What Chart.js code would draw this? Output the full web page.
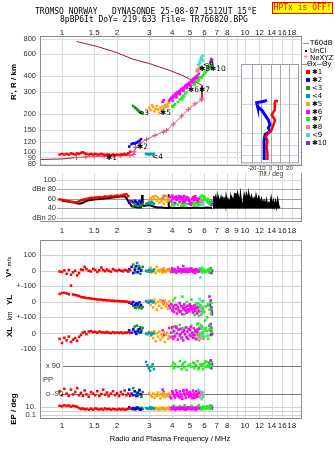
<!DOCTYPE html>
<html><head><meta charset="utf-8">
<script src="https://cdn.jsdelivr.net/npm/chart.js@4.4.1/dist/chart.umd.min.js"></script>
<style>
html,body{margin:0;padding:0;background:#fff;}
body{width:335px;height:451px;overflow:hidden;position:relative;font-family:'Liberation Sans',Arial,sans-serif;color:#000;}
canvas{position:absolute;}
.t{position:absolute;white-space:pre;line-height:10px;}
.mono{font-family:'DejaVu Sans Mono',monospace;font-size:8px;}
.rot{position:absolute;white-space:nowrap;transform:translate(-50%,-50%) rotate(-90deg);line-height:10px;}
.lg{position:absolute;font-size:7px;line-height:8px;white-space:nowrap;font-family:'DejaVu Sans',sans-serif;}
.sw{position:absolute;width:4px;height:4px;}
</style></head><body>
<canvas id="cTop" width="335" height="171" style="left:0;top:0"></canvas>
<canvas id="cDb" width="335" height="67" style="left:0;top:169px"></canvas>
<canvas id="cLow" width="335" height="215" style="left:0;top:236px"></canvas>
<canvas id="cTilt" width="70" height="120" style="left:236px;top:60px"></canvas>

<div class="t mono" style="left:35px;top:7px">TROMSO NORWAY   DYNASONDE 25-08-07 1512UT 15°E</div>
<div class="t mono" style="left:60px;top:15px">8pBP6It DoY= 219.633 File= TR766820.BPG</div>
<div class="mono" style="position:absolute;left:272px;top:2px;width:59px;height:10px;border:1px solid #f00;background:#ff0;color:#f00;line-height:10px;text-align:center">HPTx is OFF!</div>

<div class="rot" style="left:14px;top:82px;font-weight:bold;font-size:8px">R', R / km</div>
<div class="rot" style="left:8.5px;top:267px;font-size:8px"><b>V*</b> <span style="font-size:6px">m/s</span></div>
<div class="rot" style="left:10px;top:300px;font-weight:bold;font-size:8px">YL</div>
<div class="rot" style="left:10px;top:316px;font-size:6.5px">km</div>
<div class="rot" style="left:10px;top:332px;font-weight:bold;font-size:8px">XL</div>
<div class="rot" style="left:14px;top:409px;font-weight:bold;font-size:8px">EP / deg</div>
<div class="t" style="left:170px;top:434px;transform:translateX(-50%);font-size:7.5px">Radio and Plasma Frequency / MHz</div>

<div id="legend"></div>

<script>
// ---------------- DATA ----------------
const gridFreqs    = [1,1.5,2,3,4,5,6,7,8,9,10,12,14,16,18];
const topTickFreqs = [1,1.5,2,3,4,5,6,7,8,10,12,14,16,18];
const midTickFreqs = [1,1.5,2,3,4,5,6,7,8,9,10,12,14,16,18];
const botTickFreqs = [1,1.5,2,3,4,5,6,7,8,10,12,14,16,18];
const heightTicks  = [80,90,100,120,150,200,300,400,600,800];
const dbTicks      = [100,80,60,40,20];
const dbTickLabels = ['100','dBe 80','60','40','dBn 20'];
const tiltTicks    = [-20,-10,0,10,20];
const tiltHeightGrid = [100,120,150,250,400];

// profile lines (frequency MHz, height km)
const topsideF = [1.2,1.55,2.0,2.45,3.0,3.9,4.5,5.1,5.6,5.8,5.82];
const topsideH = [760,695,618,548,507,445,410,375,350,340,268];
const profileF = [5.82,5.8,5.33,4.9,4.51,4.06,3.73,3.58,3.22,2.9,2.67,2.52,2.48,2.45,2.35,2.1,1.9,1.7,1.5,1.35,1.2];
const profileH = [268,260,241,218,193,166,148,144,135,125,117,108,100,95,93.5,93,92.5,92,91.5,91,90];
const bottomsideF = [0.758,1.0,1.2];
const bottomsideH = [86.7,87.5,90];

// echo clusters: frequency, height, amplitude dB, V*, YL, XL, PP, EP
const f1  = [0.97,1.0,1.03,1.06,1.09,1.12,1.15,1.18,1.21,1.24,1.27,1.3,1.33,1.36,1.4,1.44,1.48,1.52,1.56,1.6,1.64,1.68,1.72,1.76,1.8,1.85,1.9,1.95,2.0,2.05,2.1,2.15,2.2,2.25,2.3,2.36];
const h1  = [95,96,95,96,95,97,96,95,97,96,98,99,97,96,95,96,95,96,95,95,96,95,94,95,95,94,95,94,95,94,95,95,96,95,97,100];
const db1 = [59,58,57,56,55,54,53,52,53,55,57,58,59,60,61,62,62,63,63,64,63,64,65,64,65,66,65,66,67,66,67,68,69,70,66,55];
const vs1 = [-5,-8,2,-20,5,-25,-10,0,-30,-15,8,5,25,10,0,-5,12,5,-8,3,20,5,-3,8,0,-6,10,3,-2,6,0,-4,5,2,-6,4];
const yl1 = [52,58,60,55,50,106,48,45,42,38,32,30,28,25,24,22,20,18,16,15,14,12,12,10,10,8,8,6,6,5,4,4,2,2,0,-2];
const xl1 = [-35,-62,-28,-45,-20,-55,-40,-30,-48,-22,-10,5,10,-5,12,15,8,10,5,12,8,6,4,10,5,2,8,4,6,3,7,2,5,4,8,3];
const pp1 = [-70,-95,-55,-85,-100,-60,-90,-75,-50,-95,-80,-100,-65,-90,-105,-75,-85,-95,-70,-100,-88,-60,-92,-78,-100,-85,-70,-95,-82,-100,-75,-90,-65,-95,-85,-100];
const ep1 = [20,15,25,18,22,12,20,15,10,5,3,4,2.5,3,2,3.5,2,4,3,2.2,3,2,4,2.5,3,2,3,2.5,2,3,2.2,3,2,2.5,3,5];

const f2  = [2.33,2.4,2.45,2.5,2.55,2.6,2.65,2.7];
const h2  = [110,115,117,116,118,120,122,126];
const db2 = [52,55,53,56,54,50,55,52];
const vs2 = [10,25,-15,5,30,-10,15,0];
const yl2 = [-5,-12,0,-18,-8,-15,-3,-20];
const xl2 = [20,5,25,10,-3,15,28,8];
const pp2 = [-60,-85,-95,-70,-100,-80,-65,-90];
const ep2 = [8,3,5,2.5,4,6,3,2];

const f3  = [2.45,2.5,2.53,2.57,2.6,2.64,2.68,2.72,2.76];
const h3  = [232,226,222,218,214,210,207,205,203];
const db3 = [44,48,52,47,50,45,49,46,50];
const vs3 = [40,20,-10,50,10,30,-20,5,25];
const yl3 = [-25,-35,-40,-22,-30,-38,-28,-42,-33];
const xl3 = [30,45,10,50,25,5,40,20,35];
const pp3 = [-50,-70,-95,-80,-100,-60,-88,-105,-75];
const ep3 = [3,5,2.5,8,4,3,2,6,3];

const f4  = [2.88,2.93,2.98,3.03,3.08,3.13,3.18];
const h4  = [96,96,95,96,96,95,96];
const db4 = [49,51,52,50,53,51,50];
const vs4 = [0,-5,5,-8,2,-3,6];
const yl4 = [5,0,-5,2,8,-3,0];
const xl4 = [0,-5,5,2,-8,3,0];
const pp4 = [115,95,75,60,85,100,70];
const ep4 = [5,3,4,8,3,5,4];

const f5  = [3.0,3.05,3.1,3.15,3.2,3.25,3.3,3.35,3.4,3.45,3.5,3.55,3.6,3.65,3.7,3.75,3.8,3.85];
const h5  = [225,215,235,228,210,220,232,218,205,225,215,230,220,235,228,240,230,245];
const db5 = [58,62,55,65,60,66,57,63,52,60,55,64,50,58,66,54,61,57];
const vs5 = [5,20,-10,0,10,-15,25,3,-5,8,0,-12,15,2,-8,5,10,0];
const yl5 = [10,-20,5,-35,15,-10,-50,0,-25,12,-40,-5,-18,8,-30,-12,-45,2];
const xl5 = [10,-15,5,-30,15,-50,0,-20,12,-40,-5,-25,8,-55,-10,3,-35,-18];
const pp5 = [-80,-95,-105,-85,-110,-90,-100,-78,-95,-115,-88,-100,-82,-108,-95,-90,-102,-85];
const ep5 = [5,3,8,4,2.5,6,3,4,2,5,3,7,4,3,2.5,5,4,3];

const f6  = [3.55,3.6,3.85,3.9,3.95,4.0,4.05,4.1,4.15,4.2,4.25,4.3,4.35,4.4,4.45,4.5,4.55,4.6,4.65,4.7,4.75,4.8,4.85,4.9,4.95,5.0,5.05,5.1,5.15,5.2,5.25,5.3,5.35,5.4,5.45,5.5,4.02,4.22,4.42,4.62,4.82,5.02,5.22,5.6];
const h6  = [250,258,255,262,270,268,280,275,290,285,298,292,305,300,312,318,310,325,320,332,340,335,348,342,355,350,362,370,365,378,385,380,392,398,390,405,255,272,288,308,322,338,358,420];
const db6 = [62,66,58,64,55,67,60,63,52,65,58,62,66,54,60,64,57,62,66,55,60,64,58,62,56,50,48,51,60,64,57,62,66,58,61,55,63,59,65,53,61,57,63,60];
const vs6 = [5,-3,10,0,-8,15,3,-5,8,-12,0,20,5,-3,10,-8,2,30,-5,6,0,-10,12,3,-6,8,-2,15,0,-8,5,2,-15,10,0,-4,6,-10,3,8,-5,12,0,-3];
const yl6 = [5,-10,-25,-40,-15,-55,-30,-65,-20,-45,-75,-35,-50,-10,-60,-28,-80,-42,-18,-55,-35,-70,-25,-48,-62,-15,-38,-52,-30,-68,-45,-22,-58,-40,-75,-33,-50,-20,-65,-38,-55,-28,-45,-60];
const xl6 = [20,-10,35,-25,5,40,-35,15,-20,45,0,-40,25,-15,30,-30,10,-45,20,-5,38,-22,12,-35,28,-8,42,-18,5,-28,33,-12,18,-38,8,25,-20,35,-5,15,-30,22,-10,30];
const pp6 = [-60,-75,-90,-105,-115,-70,-85,-100,-110,-65,-80,-95,-108,-72,-88,-102,-118,-68,-82,-96,-112,-62,-78,-92,-106,-74,-86,-98,-114,-66,-84,-100,-110,-70,-90,-104,-76,-94,-108,-64,-88,-98,-112,-80];
const ep6 = [4,3,6,2.5,5,3,8,4,2,6,3,5,4,2.5,7,3,5,4,3,6,2,4,5,3,8,4,3,5,2.5,6,4,3,5,2,4,6,3,5,4,3,7,4,3,5];

const f7  = [4.0,4.05,4.1,4.15,4.3,4.4,4.5,4.55,4.6,4.65,4.7,4.8,4.9,5.0,5.1,5.2,5.3,5.4,5.5,5.6,5.7,5.8,5.9,6.0,6.1,6.2,6.3,6.4,6.5,6.55,5.6,5.85,6.05,6.25,6.45,5.3,5.55];
const h7  = [232,228,236,240,250,262,270,262,280,275,290,298,345,350,342,360,355,372,365,385,395,390,410,420,430,445,460,478,490,505,370,400,440,470,500,340,380];
const db7 = [48,52,46,50,48,53,46,50,54,47,52,49,50,55,48,52,46,50,55,60,64,67,66,62,58,55,52,50,56,54,53,58,64,60,57,50,48];
const vs7 = [5,-8,12,0,-5,10,-12,3,8,-3,15,0,-6,10,-2,5,-10,8,0,-5,12,3,-8,6,0,-4,10,-6,3,8,-2,5,-10,0,7,-5,3];
const yl7 = [-20,10,-40,25,-60,-5,-30,35,-50,-15,-80,0,-25,-45,15,-70,-35,-10,-55,-90,-20,-40,5,-65,-30,-100,-15,-50,-75,-5,-35,-60,-120,-25,-45,-85,-10];
const xl7 = [30,10,45,-10,20,55,0,-25,35,15,-5,40,25,-15,50,5,-30,20,60,-10,30,45,0,-20,35,15,-35,25,50,10,-5,40,20,-15,30,5,65];
const pp7 = [90,110,75,100,85,120,70,95,105,80,115,65,90,100,85,110,75,95,120,80,100,90,70,105,85,115,95,80,110,90,75,100,120,85,95,105,70];
const ep7 = [10,5,20,3,8,15,4,6,12,3,25,5,8,4,18,6,3,10,5,30,8,4,12,6,3,15,5,8,4,20,6,3,10,5,8,4,12];

const f8  = [5.45,5.5,5.55,5.6,5.7,5.8,5.9];
const h8  = [440,455,445,465,475,470,460];
const db8 = [55,57,52,56,58,54,56];
const vs8 = [0,5,-5,3,-2,6,0];
const yl8 = [-30,-50,-70,-40,-60,-80,-45];
const xl8 = [-10,-30,10,-45,-20,5,-35];
const pp8 = [-85,-95,-75,-100,-90,-80,-105];
const ep8 = [5,3,8,4,6,3,5];

const f9  = [5.55,5.6,5.65,5.7,5.7,5.75,5.8,5.85,5.88,5.9];
const h9  = [495,500,520,510,540,560,575,545,585,530];
const db9 = [48,52,46,50,54,49,51,47,53,50];
const vs9 = [10,-5,15,0,-43,5,-10,20,-3,8];
const yl9 = [-10,-40,20,-60,-25,-85,5,-50,-30,-70];
const xl9 = [20,-20,40,-35,0,55,-10,30,-25,10];
const pp9 = [-60,-80,-100,-110,-70,-90,-120,-85,-95,-75];
const ep9 = [3,5,2.5,6,4,3,8,4,3,5];

const f10  = [6.4,6.45,6.5,6.55,6.6,6.5,6.55,6.6];
const h10  = [490,510,530,550,540,470,500,520];
const db10 = [52,56,50,47,54,49,53,51];
const vs10 = [-10,5,15,-5,0,10,-15,3];
const yl10 = [35,-20,10,-50,-80,0,-35,-65];
const xl10 = [50,20,-10,35,0,60,15,-5];
const pp10 = [110,90,125,75,100,85,115,95];
const ep10 = [10,5,20,8,4,15,6,12];

// unclassified echo amplitudes (black) and high-frequency noise
const blackF  = [1.0,1.05,1.1,1.15,1.2,1.25,1.3,1.35,1.4,1.5,1.6,1.7,1.8,1.9,2.0,2.1,2.2,2.25,2.3,2.35,2.4,2.5,2.6,2.7,2.72,2.74,2.76,2.8,2.9,3.0,3.1,3.3,3.5,3.7,3.8,3.82,3.84,3.9,4.0,4.3,4.6,5.0,5.4,5.8,6.2,6.6];
const blackDb = [56,55,54,54,51,50,52,55,57,59,60,61,62,63,64,65,65,62,55,50,45,43,42,42,50,68,47,45,46,47,45,42,42,41,41,70,44,42,41,41,42,41,42,41,42,41];
const noiseF  = [6.7,6.75,6.85,6.9,7.0,7.05,7.15,7.2,7.3,7.4,7.5,7.55,7.65,7.75,7.85,7.9,8.05,8.1,8.25,8.35,8.45,8.5,8.65,8.8,8.9,9.0,9.1,9.2,9.35,9.45,9.6,9.75,9.9,10.05,10.2,10.4,10.5,10.7,10.85,11.0,11.2,11.35,11.5,11.7,11.9,12.1,12.3,12.5,12.7,12.9,13.1,13.3,13.5,13.7,13.9,14.1,14.3,14.5,14.7,14.9,15.1,15.3,15.5];
const noiseDb = [41,66,52,62,50,64,48,60,52,63,50,65,54,60,47,66,52,58,50,64,46,62,55,71,70,58,72,66,50,70,48,47,69,58,71,60,70,55,66,57,62,50,67,54,64,52,60,49,56,46,58,45,52,48,62,45,56,44,55,43,58,45,41];

// tilt inset (deg, height km)
const tiltRedDeg  = [8,5,4.4,4.6,4,1,4.6,2.9,1,-3.5,-5.5,-3.5,-4.5,-3.5,-3.5];
const tiltRedH    = [262,263,256,245,224,205,188,172,157,146,139,131,117,104,92];
const tiltBlueDeg = [-4,-7,-15,-14.5,-14,-9.6,-6,-2.5,-0.8,-2.5,-0.8,-6,-7,-7,-7];
const tiltBlueH   = [268,262,256,246,238,224,205,188,172,163,153,145,131,111,92];

// cluster tags
const tagText   = ['✱1','✱2','<3','<4','✱5','✱6','✱7','✱8','<9','✱10'];
const tagFreq   = [1.74,2.57,2.6,3.1,3.43,4.88,5.61,5.61,5.9,6.44];
const tagHeight = [88.7,108,205,90.3,205,312,312,458,492,458];
const clusterColors = ['#ff0000','#0000ff','#1f8f1f','#00a0a0','#ffa500','#ff00ff','#22ee22','#f08080','#40e0d0','#9a1fe0'];

// ---------------- BUILD ----------------
const F_MIN = 0.758, F_MAX = 20.5;
const GRID = '#dcdcdc', FRAME = '#8c8c8c', MAROON = '#a8103c', PINK = '#e0507a';
const PT = 1.8;
const clusters = [
 [f1,h1,db1,vs1,yl1,xl1,pp1,ep1],[f2,h2,db2,vs2,yl2,xl2,pp2,ep2],[f3,h3,db3,vs3,yl3,xl3,pp3,ep3],
 [f4,h4,db4,vs4,yl4,xl4,pp4,ep4],[f5,h5,db5,vs5,yl5,xl5,pp5,ep5],[f6,h6,db6,vs6,yl6,xl6,pp6,ep6],
 [f7,h7,db7,vs7,yl7,xl7,pp7,ep7],[f8,h8,db8,vs8,yl8,xl8,pp8,ep8],[f9,h9,db9,vs9,yl9,xl9,pp9,ep9],
 [f10,h10,db10,vs10,yl10,xl10,pp10,ep10]
].map((a,i)=>({f:a[0],h:a[1],db:a[2],vs:a[3],yl:a[4],xl:a[5],pp:a[6],ep:a[7],color:clusterColors[i],name:tagText[i]}));

function pts(xs, ys){ return xs.map((x,i)=>({x:x, y:ys[i]})); }
function crisp(v){ return Math.round(v)+0.5; }
function hline(ctx,y,x0,x1,c){ ctx.strokeStyle=c; ctx.beginPath(); ctx.moveTo(x0,crisp(y)); ctx.lineTo(x1,crisp(y)); ctx.stroke(); }
function vline(ctx,x,y0,y1,c){ ctx.strokeStyle=c; ctx.beginPath(); ctx.moveTo(crisp(x),y0); ctx.lineTo(crisp(x),y1); ctx.stroke(); }
function xAxis(){ return {type:'logarithmic', min:F_MIN, max:F_MAX, display:false}; }
function opts(padding, scales){
  return {responsive:false, maintainAspectRatio:false, animation:false, devicePixelRatio:1, events:[],
    layout:{padding:padding}, scales:scales, plugins:{legend:{display:false}, tooltip:{enabled:false}}};
}
function echoSet(xs, ys, color, order, axisId){
  const d = {data:pts(xs,ys), backgroundColor:color, borderColor:color, pointStyle:'rect', pointRadius:PT, pointBorderWidth:0, order:order};
  if (axisId) d.yAxisID = axisId;
  return d;
}
function tickRow(ctx, x, freqs, y){
  ctx.fillStyle='#222'; ctx.font="8px 'Liberation Sans'"; ctx.textAlign='center'; ctx.textBaseline='middle';
  freqs.forEach(f=>ctx.fillText(String(f), x.getPixelForValue(f), y));
}

// ----- top ionogram -----
const topPlugin = {id:'topDeco',
  beforeDatasetsDraw(chart){ const {ctx, chartArea:a, scales:{x,y}} = chart; ctx.save(); ctx.lineWidth=1;
    gridFreqs.forEach(f=>vline(ctx,x.getPixelForValue(f),a.top,a.bottom,GRID));
    heightTicks.forEach(h=>hline(ctx,y.getPixelForValue(h),a.left,a.right,GRID));
    ctx.restore(); },
  afterDraw(chart){ const {ctx, chartArea:a, scales:{x,y}} = chart; ctx.save();
    ctx.strokeStyle=FRAME; ctx.lineWidth=1; ctx.strokeRect(a.left+0.5,a.top+0.5,a.right-a.left-1,a.bottom-a.top-1);
    tickRow(ctx, x, topTickFreqs, 33);
    ctx.textAlign='right'; ctx.fillStyle='#333'; ctx.font="7.5px 'Liberation Sans'";
    heightTicks.forEach(h=>ctx.fillText(String(h), 36, y.getPixelForValue(h)));
    ctx.textAlign='left'; ctx.fillStyle='#000'; ctx.font="7.5px 'DejaVu Sans'";
    tagText.forEach((t,i)=>ctx.fillText(t, x.getPixelForValue(tagFreq[i]), y.getPixelForValue(tagHeight[i])));
    ctx.restore(); }
};
new Chart(document.getElementById('cTop'), {
  type:'scatter',
  data:{datasets:[
    ...clusters.map((c,i)=>echoSet(c.f,c.h,c.color,i+1)),
    {data:pts(topsideF,topsideH), showLine:true, borderColor:MAROON, borderWidth:1, pointRadius:0, order:50},
    {data:pts(bottomsideF,bottomsideH), showLine:true, borderColor:MAROON, borderWidth:1, pointRadius:0, order:50},
    {data:pts(profileF,profileH), showLine:true, borderColor:PINK, borderWidth:1, pointStyle:'cross', pointRadius:2.5, pointBorderColor:PINK, pointBorderWidth:1, order:49}
  ]},
  options:opts({left:40,right:33,top:36,bottom:1}, {x:xAxis(), y:{type:'logarithmic',min:76.9,max:841,display:false}}),
  plugins:[topPlugin]
});

// ----- amplitude panel -----
const dbGridColors = ['#d8d8d8','#a8a8a8','#9a9a9a','#9a9a9a','#b4b4e0'];
const dbPlugin = {id:'dbDeco',
  beforeDatasetsDraw(chart){ const {ctx, chartArea:a, scales:{x,y}} = chart; ctx.save(); ctx.lineWidth=1;
    gridFreqs.forEach(f=>vline(ctx,x.getPixelForValue(f),a.top,a.bottom,GRID));
    dbTicks.forEach((v,i)=>hline(ctx,y.getPixelForValue(v),57,a.right,dbGridColors[i]));
    ctx.restore(); },
  afterDraw(chart){ const {ctx, chartArea:a, scales:{x,y}} = chart; ctx.save(); ctx.lineWidth=1;
    vline(ctx,a.right-1,a.top,a.bottom,FRAME);
    hline(ctx,a.bottom-1,a.left,a.right,FRAME);
    ctx.fillStyle='#333'; ctx.font="7.5px 'Liberation Sans'"; ctx.textAlign='right'; ctx.textBaseline='middle';
    dbTicks.forEach((v,i)=>ctx.fillText(dbTickLabels[i], 56, y.getPixelForValue(v)));
    tickRow(ctx, x, midTickFreqs, 62);
    ctx.restore(); }
};
new Chart(document.getElementById('cDb'), {
  type:'scatter',
  data:{datasets:[
    ...clusters.map((c,i)=>echoSet(c.f,c.db,c.color,i+1)),
    {data:pts(blackF,blackDb), showLine:true, borderColor:'#000', borderWidth:2, pointRadius:0, order:60},
    {data:pts(noiseF,noiseDb), showLine:true, borderColor:'#000', backgroundColor:'#000', borderWidth:1.5, pointRadius:0, fill:{value:40}, order:60}
  ]},
  options:opts({left:40,right:33,top:1,bottom:14}, {x:xAxis(), y:{type:'linear',min:11.49,max:114.46,display:false}}),
  plugins:[dbPlugin]
});

// ----- lower parameter panel -----
const lowLabels = [['yV',100,'100'],['yV',0,'0'],['yV',-100,'+-100'],['yYL',0,'0'],['yYL',-100,'+-100'],['yXL',0,'0'],['yXL',-100,'-100'],['yEP',10,'10.'],['yEP',0.1,'0.1']];
const lowGrid   = [['yV',100],['yV',0],['yYL',100],['yYL',0],['yYL',-100],['yXL',0],['yXL',-100],['yEP',10],['yEP',1],['yEP',0.1]];
const ppLabels  = [[90,'x 90',46],[0,'PP',43],[-90,'o -90',46]];
const ppLines   = [90,-90];
const bandKeys  = [['vs','yV'],['yl','yYL'],['xl','yXL'],['pp','yPP'],['ep','yEP']];
const lowPlugin = {id:'lowDeco',
  beforeDatasetsDraw(chart){ const {ctx, chartArea:a, scales:s} = chart; ctx.save(); ctx.lineWidth=1;
    gridFreqs.forEach(f=>vline(ctx,s.x.getPixelForValue(f),a.top,a.bottom,GRID));
    lowGrid.forEach(g=>hline(ctx,s[g[0]].getPixelForValue(g[1]),a.left,a.right,'#d0d0d0'));
    ppLines.forEach(v=>hline(ctx,s.yPP.getPixelForValue(v),63,a.right,'#7a7a7a'));
    ctx.restore(); },
  afterDraw(chart){ const {ctx, chartArea:a, scales:s} = chart; ctx.save(); ctx.lineWidth=1;
    ctx.strokeStyle=FRAME; ctx.strokeRect(a.left+0.5,a.top+0.5,a.right-a.left-1,a.bottom-a.top-1);
    ctx.fillStyle='#333'; ctx.font="7.5px 'Liberation Sans'"; ctx.textAlign='right'; ctx.textBaseline='middle';
    lowLabels.forEach(l=>ctx.fillText(l[2], 36, s[l[0]].getPixelForValue(l[1])));
    ctx.textAlign='left';
    ppLabels.forEach(l=>ctx.fillText(l[1], l[2], s.yPP.getPixelForValue(l[0])));
    tickRow(ctx, s.x, botTickFreqs, 189.7);
    ctx.restore(); }
};
const lowSets = [];
clusters.forEach((c,i)=>bandKeys.forEach(b=>lowSets.push(echoSet(c.f,c[b[0]],c.color,i+1,b[1]))));
new Chart(document.getElementById('cLow'), {
  type:'scatter',
  data:{datasets:lowSets},
  options:opts({left:40,right:33,top:1,bottom:32}, {
    x:xAxis(),
    yV:{type:'linear',min:-960,max:199,display:false},
    yYL:{type:'linear',min:-758,max:401,display:false},
    yXL:{type:'linear',min:-554,max:605,display:false},
    yPP:{type:'linear',min:-245.2,max:884.5,display:false},
    yEP:{type:'logarithmic',min:0.0084,max:2.7e43,display:false}
  }),
  plugins:[lowPlugin]
});

// ----- tilt inset -----
const tiltPlugin = {id:'tiltDeco',
  beforeDatasetsDraw(chart){ const {ctx, chartArea:a, scales:{x,y}} = chart; ctx.save();
    ctx.fillStyle='#fff'; ctx.fillRect(a.left,a.top,a.right-a.left,a.bottom-a.top); ctx.lineWidth=1;
    tiltHeightGrid.forEach(h=>hline(ctx,y.getPixelForValue(h),a.left,a.right,'#d4d4d4'));
    tiltTicks.forEach(t=>vline(ctx,x.getPixelForValue(t),a.top,a.bottom,'#a8a8c4'));
    ctx.restore(); },
  afterDraw(chart){ const {ctx, chartArea:a, scales:{x,y}} = chart; ctx.save(); ctx.lineWidth=1;
    ctx.strokeStyle='#9a9aae'; ctx.strokeRect(a.left+0.5,a.top+0.5,a.right-a.left-1,a.bottom-a.top-1);
    ctx.fillStyle='#333'; ctx.font="6px 'Liberation Sans'"; ctx.textAlign='center'; ctx.textBaseline='middle';
    tiltTicks.forEach(t=>ctx.fillText(String(t), x.getPixelForValue(t), 108.3));
    ctx.font="6.5px 'Liberation Sans'";
    ctx.fillText('Tilt / deg', x.getPixelForValue(0), 114.3);
    ctx.restore(); }
};
new Chart(document.getElementById('cTilt'), {
  type:'scatter',
  data:{datasets:[
    {data:pts(tiltRedDeg,tiltRedH), showLine:true, borderColor:'#ff0000', borderWidth:2.5, pointRadius:0},
    {data:pts(tiltBlueDeg,tiltBlueH), showLine:true, borderColor:'#0000ff', borderWidth:3, pointRadius:0}
  ]},
  options:opts({left:5,right:7,top:4,bottom:16.7}, {x:{type:'linear',min:-31.8,max:30.3,display:false}, y:{type:'logarithmic',min:86.7,max:510,display:false}}),
  plugins:[tiltPlugin]
});

// ----- legend (HTML text) -----
(function(){
  const L = document.getElementById('legend');
  let html = '';
  html += '<div style="position:absolute;left:303px;top:43px;width:6px;height:1px;background:#999"></div><div class="lg" style="left:310px;top:39px">T60dB</div>';
  html += '<div style="position:absolute;left:305px;top:50px;width:2px;height:2px;background:#000"></div><div class="lg" style="left:310px;top:47px">UnCl</div>';
  html += '<div class="lg" style="left:303px;top:53px;color:'+PINK+'">+</div><div class="lg" style="left:310px;top:54px">NeXYZ</div>';
  html += '<div style="position:absolute;left:302px;top:64px;width:5px;height:1px;background:#f07070"></div><div class="lg" style="left:307px;top:60px">Θx</div>';
  html += '<div style="position:absolute;left:317px;top:64px;width:5px;height:1px;background:#8080ff"></div><div class="lg" style="left:322px;top:60px">Θy</div>';
  clusters.forEach((c,i)=>{
    const yc = 72 + i*7.9;
    html += '<div class="sw" style="left:306px;top:'+(yc-2)+'px;background:'+c.color+'"></div>';
    html += '<div class="lg" style="left:312px;top:'+(yc-4)+'px">'+c.name+'</div>';
  });
  L.innerHTML = html;
})();
</script>
</body></html>
